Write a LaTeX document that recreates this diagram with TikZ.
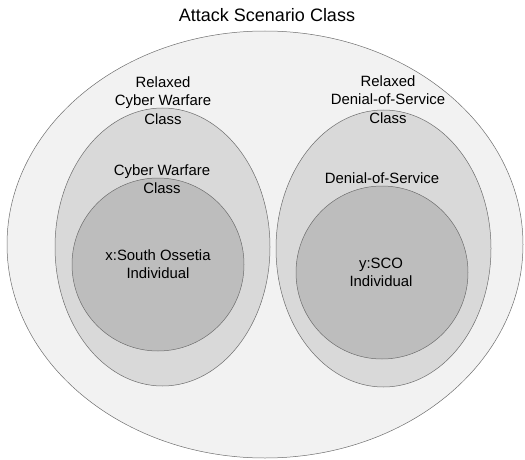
\documentclass[tikz,border=0pt]{standalone}
\usepackage{fontspec}
\setmainfont{Liberation Sans}
\usetikzlibrary{shapes.geometric}
\definecolor{outerfill}{HTML}{F2F2F2}
\definecolor{midfill}{HTML}{D9D9D9}
\definecolor{innerfill}{HTML}{BDBDBD}
\definecolor{edge}{HTML}{6E6E6E}
\tikzset{
  set/.style={ellipse, draw=edge, line width=0.5pt, inner sep=0pt},
  lbl/.style={align=center, font=\fontsize{14.9}{18.5}\selectfont, text=black, inner sep=0pt},
}
\begin{document}
\begin{tikzpicture}[x=1pt,y=-1pt]
\useasboundingbox (0,0) rectangle (525,460);
\node[set, fill=outerfill, minimum width=516pt, minimum height=427pt] (outer) at (265,244.5) {};
\node[set, fill=midfill, minimum width=215pt, minimum height=278pt] (lmid) at (162.5,247) {};
\node[set, fill=innerfill, minimum width=172pt, minimum height=173pt] (lin) at (158,264.5) {};
\node[set, fill=midfill, minimum width=215pt, minimum height=277pt] (rmid) at (383.5,248.5) {};
\node[set, fill=innerfill, minimum width=172pt, minimum height=173pt] (rin) at (382,272.5) {};
\node[lbl, font=\fontsize{18}{21}\selectfont] (title) at (267,15) {Attack Scenario Class};
\node[lbl] (lmidl) at (163,100.5) {Relaxed\\Cyber Warfare\\Class};
\node[lbl] (linl) at (162,179) {Cyber Warfare\\Class};
\node[lbl] (rmidl) at (388,99.5) {Relaxed\\Denial-of-Service\\Class};
\node[lbl] (rinl) at (382,178) {Denial-of-Service};
\node[lbl] (xl) at (158,264) {x:South Ossetia\\Individual};
\node[lbl] (yl) at (381,272.5) {y:SCO\\Individual};
\end{tikzpicture}
\end{document}
